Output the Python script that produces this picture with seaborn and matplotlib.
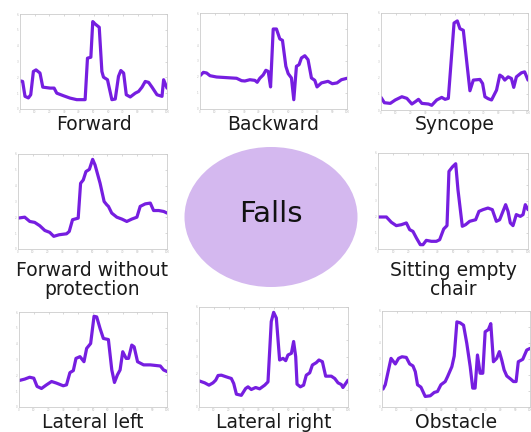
import matplotlib
matplotlib.use("Agg")
import matplotlib.pyplot as plt
from matplotlib.patches import Ellipse
import seaborn as sns

# --- data (x: 0-100, y: 0-6) ---
forward_x = [0, 1.8, 3.4, 5.7, 7.3, 9.1, 10.9, 13.6, 15.5, 20.5, 23.2, 25, 29.5, 34, 38.6, 44.3, 45.9, 48.2,
             49.5, 51.1, 53.9, 55.7, 56.8, 59.5, 62.5, 64.8, 67, 68.6, 70.5, 72.3, 75, 78.4, 80.7, 83, 85.2,
             87.5, 89.8, 93.2, 96.6, 97.7, 100]
forward_y = [1.78, 1.74, 0.8, 0.7, 0.9, 2.37, 2.47, 2.27, 1.38, 1.32, 1.32, 1.0, 0.84, 0.69, 0.59, 0.59, 3.21,
             3.27, 5.52, 5.37, 5.16, 2.37, 2.01, 1.85, 0.59, 0.63, 2.06, 2.43, 2.27, 0.9, 0.76, 1.0, 1.11, 1.38,
             1.74, 1.68, 1.38, 0.9, 0.8, 1.85, 1.32]

backward_x = [0, 2.3, 4.5, 6.8, 11.3, 18.1, 24.9, 28.3, 30.5, 33.9, 37.3, 38.9, 40.7, 43, 44.8, 46.4, 48,
              49.8, 52, 54.3, 56.1, 58.4, 60, 62.2, 63.8, 65.6, 67.4, 69, 71.3, 73.5, 75.8, 78.1, 79.6, 82.6,
              87.1, 90, 93.2, 96.2, 100]
backward_y = [2.08, 2.29, 2.25, 2.08, 2.0, 1.96, 1.92, 1.77, 1.75, 1.83, 1.79, 1.67, 1.92, 2.13, 2.42, 2.35,
              1.38, 5.0, 5.0, 4.38, 4.29, 2.67, 2.21, 1.94, 0.58, 2.67, 2.77, 3.19, 3.33, 3.08, 1.94, 1.79,
              1.38, 1.63, 1.73, 1.58, 1.63, 1.83, 1.92]

syncope_x = [0, 2.3, 6.3, 9.7, 14.2, 17.6, 21, 23.3, 25.5, 27.8, 32.3, 34.5, 37.9, 41.3, 43.6, 45.8, 49.7,
             51.9, 53.7, 56, 58.7, 60.5, 62.8, 67.3, 69.1, 70.7, 72.9, 75.2, 78.6, 80.8, 82.6, 84.2, 86.5,
             88.7, 90.3, 92.1, 95.5, 97.7, 100]
syncope_y = [0.78, 0.45, 0.41, 0.62, 0.82, 0.72, 0.37, 0.51, 0.66, 0.41, 0.37, 0.29, 0.62, 0.78, 0.66, 0.72,
             5.38, 5.51, 5.03, 4.93, 2.67, 1.19, 1.85, 1.89, 1.64, 0.82, 0.7, 0.62, 1.23, 2.16, 2.05, 1.85,
             2.05, 1.95, 1.4, 2.05, 2.3, 2.36, 1.85]

fwp_x = [0, 4.5, 7.9, 11.2, 14.6, 18, 21.3, 24, 27.6, 32.6, 34.4, 36.6, 40.4, 42, 43.8, 45.6, 47.9, 50.1,
         51.7, 55.1, 57.8, 59.6, 60.7, 62.9, 66.3, 69.7, 73, 76.4, 79.8, 82, 85.4, 88.8, 91, 94.4, 97.8, 100]
fwp_y = [1.95, 2.01, 1.74, 1.68, 1.47, 1.17, 1.05, 0.8, 0.9, 0.96, 1.11, 1.85, 1.95, 4.15, 4.36, 4.89, 5.03,
         5.66, 5.31, 4.15, 3.0, 2.79, 2.69, 2.27, 2.01, 1.89, 1.74, 1.89, 2.01, 2.69, 2.85, 2.9, 2.43, 2.43,
         2.37, 2.27]

chair_x = [0, 5.6, 8.9, 12.2, 15.6, 18.9, 21.1, 23.3, 25.6, 28.2, 30, 32.2, 35.6, 38.9, 41.1, 43.8, 46, 47.3,
           49.6, 51.8, 53.3, 56.2, 58.4, 61.1, 65.1, 67.3, 70, 73.3, 76.2, 78.9, 81.1, 83.3, 85.1, 86.7, 88.2,
           90, 92.2, 94.9, 96.7, 98.2, 100]
chair_y = [2.0, 2.0, 1.67, 1.46, 1.52, 1.63, 1.21, 1.1, 0.69, 0.27, 0.27, 0.54, 0.48, 0.48, 0.58, 1.25, 1.46,
           4.85, 5.13, 5.33, 3.71, 1.42, 1.52, 1.73, 1.83, 2.35, 2.46, 2.56, 2.46, 1.73, 1.83, 2.35, 2.77,
           2.35, 1.63, 1.46, 2.15, 2.04, 2.15, 2.77, 2.46]

lleft_x = [0, 3.8, 7.2, 10, 12.2, 15.2, 18.6, 22, 25.3, 29.9, 32.1, 34.4, 36.7, 38.5, 41.2, 43.9, 45.7, 48.4,
           50.7, 52.5, 54.8, 57, 60.4, 62.7, 64.5, 66.5, 68.3, 70.1, 72.4, 74, 76.2, 77.8, 80.1, 84.2, 88.7,
           95.5, 97.7, 100]
lleft_y = [1.67, 1.76, 1.88, 1.82, 1.3, 1.17, 1.4, 1.61, 1.51, 1.34, 1.4, 2.17, 2.3, 3.07, 3.18, 2.86, 3.7,
           4.01, 5.73, 5.69, 4.95, 4.33, 4.26, 2.34, 1.55, 2.03, 2.34, 3.49, 3.07, 3.07, 3.91, 3.8, 2.86,
           2.66, 2.66, 2.59, 2.34, 2.24]

lright_x = [0, 3.8, 6.7, 9.4, 11.2, 12.8, 15, 18.3, 21.7, 23.3, 25.1, 28.4, 31.3, 32.9, 35.1, 38, 40.7, 44.1,
            46.3, 48.5, 50.1, 51.9, 54.1, 56.4, 58.2, 59.7, 62, 63.5, 64.9, 65.8, 68, 70.2, 72, 74.3, 76.1,
            78.7, 80.5, 82.8, 85, 88.8, 91.1, 93.3, 95.5, 96.6, 100]
lright_y = [1.57, 1.45, 1.31, 1.45, 1.61, 1.89, 1.91, 1.81, 1.71, 1.41, 0.77, 0.7, 1.11, 1.21, 1.05, 1.17,
            1.09, 1.31, 1.51, 5.13, 5.68, 5.34, 2.82, 2.92, 2.78, 3.12, 3.22, 3.93, 3.02, 1.37, 1.21, 1.31,
            1.91, 2.05, 2.52, 2.66, 2.82, 2.72, 1.85, 1.85, 1.71, 1.45, 1.35, 1.17, 1.61]

obstacle_x = [0.7, 2.2, 6.1, 9, 11.2, 13.5, 16.4, 18.7, 20.9, 22.5, 24, 26.3, 29.2, 32.6, 35.3, 37.5, 39.8,
              42.7, 44.3, 47.2, 48.8, 50.6, 52.8, 55.1, 57.3, 59.6, 61.3, 62.9, 64.5, 66.3, 68.1, 69.7, 71.9,
              73.5, 75.3, 77.5, 79.3, 80.9, 82.5, 84.3, 87, 88.8, 90.6, 92.1, 95.1, 97.8, 100]
obstacle_y = [1.12, 1.39, 3.04, 2.69, 3.04, 3.14, 3.1, 2.69, 2.57, 2.21, 1.39, 1.24, 0.66, 0.7, 0.91, 0.97,
              1.39, 1.59, 1.9, 2.52, 3.19, 5.32, 5.26, 5.11, 3.97, 2.52, 1.18, 1.18, 3.25, 2.11, 2.11, 4.7,
              4.84, 5.21, 2.83, 3.04, 3.46, 2.94, 2.32, 1.94, 1.74, 1.59, 1.59, 2.83, 2.98, 3.56, 3.66]

labels = ["Forward", "Backward", "Syncope", "Forward without\nprotection", "Sitting empty\nchair",
          "Lateral left", "Lateral right", "Obstacle"]
center_label = "Falls"

W, H = 531, 432
LINE = "#761ee0"
CIRCLE = "#d4b8ef"

sns.set_style("white")
plt.rcParams['font.family'] = ['DejaVu Sans']

fig = plt.figure(figsize=(W / 100, H / 100), dpi=100)

# background layer in pixel coords for the ellipse and captions
bg = fig.add_axes([0, 0, 1, 1])
bg.set_xlim(0, W)
bg.set_ylim(H, 0)
bg.axis("off")
bg.add_patch(Ellipse((271, 217), 173, 140, color=CIRCLE, lw=0))
bg.text(271, 214, center_label, ha="center", va="center", fontsize=21, color="#111111")

# (x, y, box left, top, right, bottom, caption y)
panels = [
    (forward_x, forward_y, (20, 14, 167, 109), 124),
    (backward_x, backward_y, (200, 13, 347, 109), 124),
    (syncope_x, syncope_y, (381, 13, 528, 110), 124),
    (fwp_x, fwp_y, (18, 154, 167, 249), 280),
    (chair_x, chair_y, (378, 153, 528, 249), 280),
    (lleft_x, lleft_y, (19, 312, 167, 407), 423),
    (lright_x, lright_y, (199, 307, 348, 407), 423),
    (obstacle_x, obstacle_y, (382, 311, 530, 407), 423),
]

for (xs, ys, box, cap_y), label in zip(panels, labels):
    x0, y0, x1, y1 = box
    ax = fig.add_axes([x0 / W, 1 - y1 / H, (x1 - x0) / W, (y1 - y0) / H])
    sns.lineplot(x=xs, y=ys, ax=ax, color=LINE, lw=2.3)
    ax.set_xlim(0, 100)
    ax.set_ylim(0, 6)
    ax.set_xticks(range(0, 101, 10))
    ax.set_yticks(range(0, 7))
    ax.tick_params(direction="in", length=1.5, width=0.4, colors="#bbbbbb", labelsize=2, pad=1,
                   top=True, right=True)
    for sp in ax.spines.values():
        sp.set_color("#cccccc")
        sp.set_linewidth(0.6)
    bg.text((x0 + x1) / 2, cap_y, label, ha="center", va="center", fontsize=13.5,
            color="#1a1a1a", linespacing=1.05)

fig.savefig("out.png", dpi=100)
